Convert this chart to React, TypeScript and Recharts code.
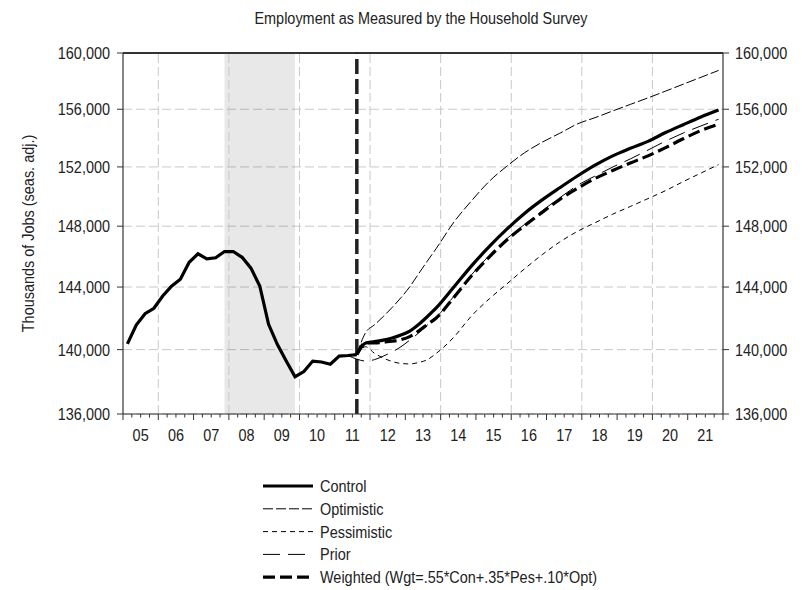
import React from 'react';
import { LineChart, Line, XAxis, YAxis, CartesianGrid, ReferenceLine, ReferenceArea } from 'recharts';

const FONT = "'Liberation Sans', Arial, sans-serif";
const FS = 17;
const SX = 0.85; // horizontal condensing to mimic a narrow face

const title = 'Employment as Measured by the Household Survey';
const yAxisTitle = 'Thousands of Jobs (seas. adj.)';

// History (quarterly)
const historyQuarters = [
  '2005Q1', '2005Q2', '2005Q3', '2005Q4',
  '2006Q1', '2006Q2', '2006Q3', '2006Q4',
  '2007Q1', '2007Q2', '2007Q3', '2007Q4',
  '2008Q1', '2008Q2', '2008Q3', '2008Q4',
  '2009Q1', '2009Q2', '2009Q3', '2009Q4',
  '2010Q1', '2010Q2', '2010Q3', '2010Q4',
  '2011Q1', '2011Q2', '2011Q3',
];
const historyValues = [
  140360, 141560, 142285, 142630,
  143420, 144050, 144510, 145610,
  146170, 145840, 145910, 146320,
  146320, 145940, 145230, 144070,
  141600, 140320, 139280, 138300,
  138620, 139280, 139220, 139080,
  139590, 139630, 139690,
];

// Forecasts
const forecastQuarters = [
  '2011Q3', '2011Q4', '2012Q1', '2012Q2', '2012Q3', '2012Q4',
  '2013Q1', '2013Q2', '2013Q3', '2013Q4', '2014Q2', '2014Q4',
  '2015Q2', '2015Q4', '2016Q2', '2016Q4', '2017Q2', '2017Q4',
  '2018Q2', '2018Q4', '2019Q2', '2019Q4', '2020Q2', '2020Q4',
  '2021Q2', '2021Q4',
];
const controlValues = [
  139690, 140420, 140500, 140600, 140730, 140920,
  141170, 141590, 142100, 142650, 144000, 145380,
  146640, 147800, 148850, 149760, 150580, 151380,
  152120, 152760, 153280, 153760, 154370, 154920,
  155460, 155950,
];
const optimisticValues = [
  139690, 141080, 141570, 142100, 142680, 143310,
  144020, 144860, 145700, 146520, 148270, 149700,
  151010, 152050, 152970, 153700, 154320, 154970,
  155410, 155880, 156340, 156800, 157280, 157770,
  158260, 158750,
];
const pessimisticValues = [
  139690, 140180, 139770, 139470, 139250, 139130,
  139100, 139190, 139370, 139760, 140790, 142140,
  143230, 144200, 145180, 146110, 146950, 147650,
  148230, 148800, 149320, 149850, 150390, 151000,
  151580, 152160,
];
const weightedValues = [
  139690, 140420, 140420, 140470, 140530, 140630,
  140820, 141170, 141600, 142010, 143330, 144730,
  145960, 147085, 148030, 148920, 149800, 150540,
  151210, 151760, 152270, 152760, 153330, 153940,
  154510, 154950,
];
const priorQuarters = ['2011Q2', ...forecastQuarters];
const priorValues = [
  139630, 139400, 139280, 139370, 139590, 139860, 140180,
  140600, 141050, 141560, 142050, 143400, 144800,
  146050, 147170, 148110, 149030, 149900, 150740,
  151380, 151990, 152550, 153160, 153780, 154340,
  154830, 155300,
];

const years = [2005, 2006, 2007, 2008, 2009, 2010, 2011, 2012, 2013, 2014, 2015, 2016, 2017, 2018, 2019, 2020, 2021];
const yearLabels = ['05', '06', '07', '08', '09', '10', '11', '12', '13', '14', '15', '16', '17', '18', '19', '20', '21'];
const gridYears = [2006, 2008, 2010, 2012, 2014, 2016, 2018, 2020];
const yTicks = [136000, 140000, 144000, 148000, 152000, 156000, 160000];
const recession = { start: '2007Q4', end: '2009Q4' };
const forecastStart = '2011Q3';

const legendNames = ['Control', 'Optimistic', 'Pessimistic', 'Prior', 'Weighted (Wgt=.55*Con+.35*Pes+.10*Opt)'];

// quarter label -> position on time axis (quarter midpoint)
const qt = (q: string) => Number(q.slice(0, 4)) + (Number(q.slice(5)) - 0.5) / 4;
const rows = (qs: string[], vs: number[]) => qs.map((q, i) => ({ t: qt(q), v: vs[i] }));

const historyData = rows(historyQuarters, historyValues);
const controlData = rows(forecastQuarters, controlValues);
const optimisticData = rows(forecastQuarters, optimisticValues);
const pessimisticData = rows(forecastQuarters, pessimisticValues);
const weightedData = rows(forecastQuarters, weightedValues);
const priorData = rows(priorQuarters, priorValues);

const xTicks: number[] = [];
years.forEach((y) => [0, 0.25, 0.5, 0.75].forEach((f) => xTicks.push(y + f)));
xTicks.push(years[years.length - 1] + 1);

const styles = {
  Control: { w: 3.2, dash: undefined as string | undefined },
  Optimistic: { w: 1, dash: '10 3' },
  Pessimistic: { w: 1, dash: '5 4' },
  Prior: { w: 1, dash: '17 8' },
  Weighted: { w: 3.2, dash: '12 5' },
};
const legendStyles = [styles.Control, styles.Optimistic, styles.Pessimistic, styles.Prior, styles.Weighted];

const NarrowText = ({ x, y, anchor, children, rotate }: any) => (
  <text
    transform={`translate(${x},${y})${rotate ? ` rotate(${rotate})` : ''} scale(${SX},1)`}
    x={0}
    y={0}
    textAnchor={anchor}
    fill="#222"
    fontSize={FS}
    fontFamily={FONT}
  >
    {children}
  </text>
);

const XTick = (props: any) => {
  const { x, y, payload } = props;
  const v: number = payload.value;
  const frac = v - Math.floor(v);
  const isYear = Math.abs(frac) < 1e-6;
  const isMid = Math.abs(frac - 0.5) < 1e-6;
  const idx = years.indexOf(Math.floor(v));
  return (
    <g>
      <line x1={x} x2={x} y1={y} y2={y + (isYear ? 6 : 3.5)} stroke="#333" strokeWidth={1} />
      {isMid && idx >= 0 && (
        <NarrowText x={x} y={y + 27} anchor="middle">{yearLabels[idx]}</NarrowText>
      )}
    </g>
  );
};

const fmt = (v: number) => v.toLocaleString('en-US');

const YTick = (props: any) => {
  const { x, y, payload, textAnchor } = props;
  return (
    <NarrowText x={x} y={y + 6} anchor={textAnchor}>{fmt(payload.value)}</NarrowText>
  );
};

const YLabel = (props: any) => {
  const vb = props.viewBox || { x: 0, y: 53, width: 123, height: 361 };
  const cx = vb.x + 34;
  const cy = vb.y + vb.height / 2;
  return (
    <NarrowText x={cx} y={cy} anchor="middle" rotate={-90}>{yAxisTitle}</NarrowText>
  );
};

export default function App() {
  return (
    <div style={{ position: 'absolute', left: 0, top: 0, width: 812, height: 590, background: '#fff' }}>
      <LineChart width={812} height={590} margin={{ top: 53, right: 0, bottom: 146, left: 0 }}>
        <CartesianGrid yAxisId="left" vertical={false} stroke="#c8c8c8" strokeDasharray="9 4" />
        {gridYears.map((g) => (
          <ReferenceLine key={g} yAxisId="left" x={g} stroke="#c8c8c8" strokeDasharray="9 4" />
        ))}
        <ReferenceArea yAxisId="left" x1={qt(recession.start)} x2={qt(recession.end)} fill="#000" fillOpacity={0.09} stroke="none" />
        <XAxis
          dataKey="t"
          type="number"
          domain={[years[0], years[years.length - 1] + 1]}
          ticks={xTicks}
          interval={0}
          allowDataOverflow
          height={30}
          tickSize={0}
          tickMargin={0}
          tickLine={false}
          axisLine={{ stroke: '#333', strokeWidth: 1.2 }}
          tick={<XTick />}
        />
        <YAxis
          yAxisId="left"
          type="number"
          scale="log"
          domain={[yTicks[0], yTicks[yTicks.length - 1]]}
          ticks={yTicks}
          allowDataOverflow
          interval={0}
          width={123}
          tickSize={6}
          tickMargin={7}
          axisLine={{ stroke: '#333', strokeWidth: 1.2 }}
          tickLine={{ stroke: '#333' }}
          tick={<YTick />}
          label={<YLabel />}
        />
        <YAxis
          yAxisId="right"
          orientation="right"
          type="number"
          scale="log"
          domain={[yTicks[0], yTicks[yTicks.length - 1]]}
          ticks={yTicks}
          allowDataOverflow
          interval={0}
          width={89}
          tickSize={6}
          tickMargin={6}
          axisLine={{ stroke: '#333', strokeWidth: 1.2 }}
          tickLine={{ stroke: '#333' }}
          tick={<YTick />}
        />
        <ReferenceLine yAxisId="left" y={yTicks[yTicks.length - 1]} stroke="#333" strokeWidth={2} />
        <ReferenceLine yAxisId="left" x={qt(forecastStart)} stroke="#222" strokeWidth={3.5} strokeDasharray="15 5" />
        <Line yAxisId="left" data={optimisticData} dataKey="v" type="monotone" stroke="#000" strokeWidth={styles.Optimistic.w} strokeDasharray={styles.Optimistic.dash} dot={false} isAnimationActive={false} />
        <Line yAxisId="left" data={pessimisticData} dataKey="v" type="monotone" stroke="#000" strokeWidth={styles.Pessimistic.w} strokeDasharray={styles.Pessimistic.dash} dot={false} isAnimationActive={false} />
        <Line yAxisId="left" data={priorData} dataKey="v" type="monotone" stroke="#000" strokeWidth={styles.Prior.w} strokeDasharray={styles.Prior.dash} dot={false} isAnimationActive={false} />
        <Line yAxisId="left" data={weightedData} dataKey="v" type="monotone" stroke="#000" strokeWidth={styles.Weighted.w} strokeDasharray={styles.Weighted.dash} dot={false} isAnimationActive={false} />
        <Line yAxisId="left" data={historyData} dataKey="v" type="linear" stroke="#000" strokeWidth={styles.Control.w} dot={false} isAnimationActive={false} />
        <Line yAxisId="left" data={controlData} dataKey="v" type="monotone" stroke="#000" strokeWidth={styles.Control.w} dot={false} isAnimationActive={false} />
      </LineChart>
      <svg width={812} height={590} style={{ position: 'absolute', left: 0, top: 0, pointerEvents: 'none' }}>
        <NarrowText x={421} y={24} anchor="middle">{title}</NarrowText>
        {legendNames.map((name, i) => {
          const cy = 486 + i * 22.8;
          const s = legendStyles[i];
          return (
            <g key={name}>
              <line x1={263} x2={313} y1={cy} y2={cy} stroke="#000" strokeWidth={s.w} strokeDasharray={s.dash} />
              <NarrowText x={320} y={cy + 6} anchor="start">{name}</NarrowText>
            </g>
          );
        })}
      </svg>
    </div>
  );
}
